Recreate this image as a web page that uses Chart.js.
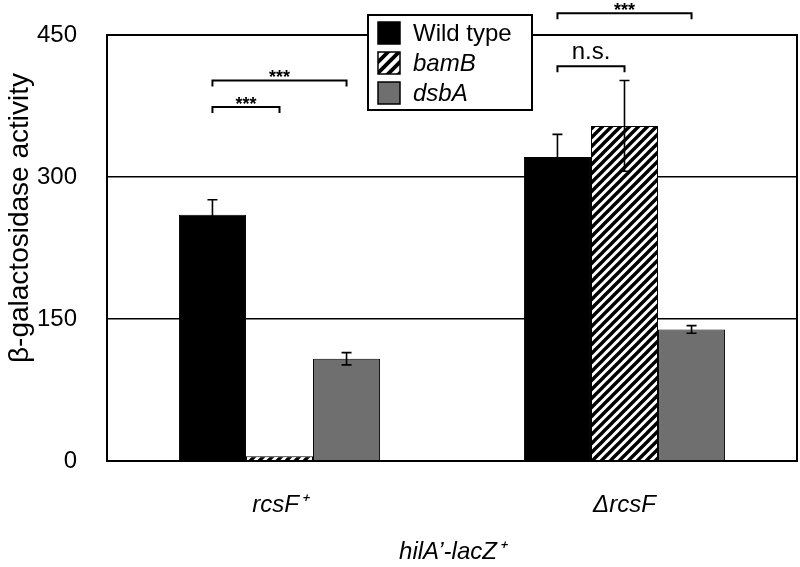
<!DOCTYPE html>
<html>
<head>
<meta charset="utf-8">
<script src="https://cdn.jsdelivr.net/npm/chart.js@4"></script>
<style>
  body { margin: 0; background: #fff; }
</style>
</head>
<body>
<canvas id="chart" width="800" height="567"></canvas>
<script>
const categories = ['rcsF\u207A', '\u0394rcsF'];
const wildType = [260, 321];
const bamB = [5, 354];
const dsbA = [108, 139];
const wildTypeErr = [16, 24];
const bamBErr = [0, 48];
const dsbAErr = [6.5, 4];
const yTicks = [0, 150, 300, 450];
const yTitle = '\u03B2-galactosidase activity';
// significance brackets: group, from bar, to bar, height (data units), label
const brackets = [
  { group: 0, from: 0, to: 2, at: 402, label: '***' },
  { group: 0, from: 0, to: 1, at: 374, label: '***' },
  { group: 1, from: 0, to: 2, at: 473, label: '***' },
  { group: 1, from: 0, to: 1, at: 417, label: 'n.s.' }
];

const FONT = "'Liberation Sans', Arial, sans-serif";

function hatch(size, width) {
  const c = document.createElement('canvas');
  c.width = size; c.height = size;
  const g = c.getContext('2d');
  g.fillStyle = '#fff';
  g.fillRect(0, 0, size, size);
  g.strokeStyle = '#000';
  g.lineWidth = width;
  g.beginPath();
  g.moveTo(-1, size + 1); g.lineTo(size + 1, -1);
  g.moveTo(-size / 2 - 1, size / 2 + 1); g.lineTo(size / 2 + 1, -size / 2 - 1);
  g.moveTo(size / 2 - 1, size * 1.5 + 1); g.lineTo(size * 1.5 + 1, size / 2 - 1);
  g.stroke();
  return g.createPattern(c, 'repeat');
}

const ctx = document.getElementById('chart').getContext('2d');
const stripes = hatch(9, 3.4);
const bigStripes = hatch(11, 3.8);

const errorBars = {
  id: 'errorBars',
  afterDatasetsDraw(chart) {
    const c = chart.ctx, y = chart.scales.y;
    c.save();
    c.strokeStyle = '#000';
    c.lineWidth = 1.6;
    chart.data.datasets.forEach((ds, i) => {
      chart.getDatasetMeta(i).data.forEach((bar, j) => {
        const e = ds.err[j];
        if (!e) return;
        const top = y.getPixelForValue(ds.data[j] + e);
        const bot = y.getPixelForValue(ds.data[j] - e);
        c.beginPath();
        c.moveTo(bar.x, top); c.lineTo(bar.x, bot);
        c.moveTo(bar.x - 5, top); c.lineTo(bar.x + 5, top);
        c.moveTo(bar.x - 5, bot); c.lineTo(bar.x + 5, bot);
        c.stroke();
      });
    });
    c.restore();
  }
};

const extras = {
  id: 'extras',
  afterDraw(chart) {
    const c = chart.ctx, y = chart.scales.y, a = chart.chartArea;
    c.save();
    // plot frame
    c.strokeStyle = '#000';
    c.lineWidth = 2;
    c.strokeRect(a.left, a.top, a.right - a.left, a.bottom - a.top);

    // y axis title, set a bit above the middle as in the original
    c.save();
    c.translate(20, 218);
    c.rotate(-Math.PI / 2);
    c.fillStyle = '#000';
    c.font = '28px ' + FONT;
    c.textAlign = 'center';
    c.textBaseline = 'middle';
    c.fillText(yTitle, 0, 0);
    c.restore();

    // brackets
    brackets.forEach(b => {
      const xa = chart.getDatasetMeta(b.from).data[b.group].x;
      const xb = chart.getDatasetMeta(b.to).data[b.group].x;
      const yy = y.getPixelForValue(b.at);
      c.lineWidth = 2;
      c.beginPath();
      c.moveTo(xa, yy + 6); c.lineTo(xa, yy); c.lineTo(xb, yy); c.lineTo(xb, yy + 6);
      c.stroke();
      c.fillStyle = '#000';
      c.textAlign = 'center';
      if (b.label === '***') {
        c.font = 'bold 18px ' + FONT;
        c.textBaseline = 'alphabetic';
        c.fillText(b.label, (xa + xb) / 2, yy + 3);
      } else {
        c.font = '24px ' + FONT;
        c.textBaseline = 'bottom';
        c.fillText(b.label, (xa + xb) / 2, yy - 2);
      }
    });

    // legend box
    const lx = 368, ly = 15, lw = 164, lh = 95;
    c.fillStyle = '#fff';
    c.fillRect(lx, ly, lw, lh);
    c.lineWidth = 2;
    c.strokeRect(lx, ly, lw, lh);
    chart.data.datasets.forEach((ds, i) => {
      const cy = ly + 18 + i * 30;
      c.fillStyle = i === 1 ? bigStripes : ds.backgroundColor;
      c.fillRect(lx + 10, cy - 11, 22, 22);
      c.lineWidth = 1.5;
      c.strokeRect(lx + 10, cy - 11, 22, 22);
      c.fillStyle = '#000';
      c.font = (i === 0 ? '' : 'italic ') + '24px ' + FONT;
      c.textAlign = 'left';
      c.textBaseline = 'middle';
      c.fillText(ds.label, lx + 45, cy + 1);
    });
    c.restore();
  }
};

new Chart(ctx, {
  type: 'bar',
  data: {
    labels: categories,
    datasets: [
      { label: 'Wild type', data: wildType, err: wildTypeErr, backgroundColor: '#000000' },
      { label: 'bamB', data: bamB, err: bamBErr, backgroundColor: stripes },
      { label: 'dsbA', data: dsbA, err: dsbAErr, backgroundColor: '#6f6f6f' }
    ]
  },
  options: {
    responsive: false,
    devicePixelRatio: 1,
    animation: false,
    layout: { padding: { top: 35, right: 3, left: 0, bottom: 0 } },
    datasets: {
      bar: {
        borderColor: '#000',
        borderWidth: 1,
        barPercentage: 1,
        categoryPercentage: 0.583
      }
    },
    plugins: {
      legend: { display: false },
      tooltip: { enabled: false }
    },
    scales: {
      x: {
        grid: { display: false, drawTicks: false },
        border: { display: false },
        ticks: { color: '#000', padding: 30, font: { family: FONT, size: 24, style: 'italic' } },
        title: {
          display: true,
          text: 'hilA\u2019-lacZ\u207A',
          color: '#000',
          padding: { top: 0, bottom: 0 },
          font: { family: FONT, size: 24, style: 'italic' }
        },
        afterFit(s) { s.height = 106; }
      },
      y: {
        min: 0,
        max: 450,
        afterBuildTicks(s) { s.ticks = yTicks.map(v => ({ value: v })); },
        grid: { color: '#000', lineWidth: 1.5, drawTicks: false },
        border: { display: false },
        ticks: { color: '#000', padding: 30, font: { family: FONT, size: 24 } },
        afterFit(s) {
          s.width = 107;
          s.paddingTop = 12;
          s.paddingBottom = 12;
        }
      }
    }
  },
  plugins: [errorBars, extras]
});
</script>
</body>
</html>
